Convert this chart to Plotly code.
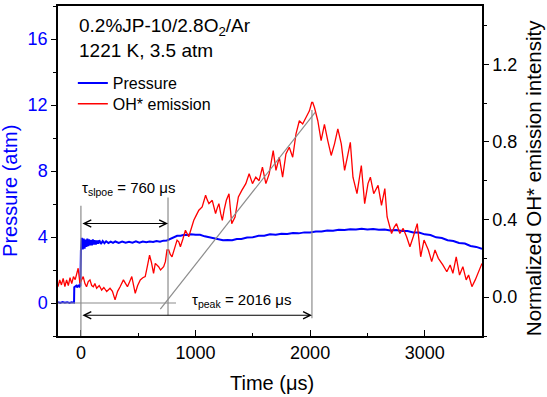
import plotly.graph_objects as go

# ---------------- data ----------------
t_pressure = [-200, -180, -160, -140, -120, -100, -80, -60,
              -58, -50, -40, -30, -20, -10, -5,
              0, 8, 16, 24, 32, 40, 48, 56, 64, 72, 80, 88, 96, 104, 112, 120,
              130, 140, 150, 160, 175, 190, 205, 220, 240, 260, 280, 300,
              330, 360, 390, 420, 450, 480, 510, 540, 570, 600,
              630, 660, 690, 720, 750, 780, 810, 840, 870, 900,
              930, 960, 1000, 1040, 1080, 1120, 1160, 1200, 1240, 1280,
              1320, 1360, 1400, 1450, 1500, 1550, 1600, 1650, 1700, 1750,
              1800, 1850, 1900, 1950, 2000, 2050, 2100, 2150, 2200, 2250,
              2300, 2350, 2400, 2450, 2500, 2550, 2600, 2650, 2700, 2750,
              2800, 2850, 2900, 2950, 3000, 3050, 3100, 3150, 3200, 3250,
              3300, 3350, 3400, 3450, 3500]
pressure = [0.05, 0.0, 0.06, 0.02, 0.05, 0.0, 0.04, 0.02,
            0.95, 1.0, 1.05, 0.95, 1.1, 1.0, 1.05,
            3.2, 3.95, 3.25, 3.9, 3.3, 3.85, 3.4, 3.9, 3.45, 3.85, 3.5, 3.8, 3.5, 3.85, 3.55, 3.8,
            3.55, 3.78, 3.6, 3.8, 3.58, 3.76, 3.62, 3.74, 3.63, 3.72, 3.64, 3.73,
            3.64, 3.72, 3.65, 3.71, 3.66, 3.74, 3.66, 3.72, 3.69, 3.73,
            3.7, 3.76, 3.72, 3.78, 3.79, 3.9, 3.96, 4.07, 4.08, 4.14,
            4.12, 4.17, 4.14, 4.14, 4.04, 3.99, 3.9, 3.87, 3.8, 3.82,
            3.8, 3.88, 3.88, 3.97, 3.98, 4.07, 4.08, 4.16, 4.14, 4.2,
            4.18, 4.24, 4.22, 4.28, 4.28, 4.34, 4.33, 4.39, 4.38, 4.44,
            4.42, 4.47, 4.45, 4.5, 4.46, 4.49, 4.44, 4.46, 4.4, 4.42,
            4.36, 4.36, 4.28, 4.27, 4.16, 4.12, 3.98, 3.94, 3.8, 3.76,
            3.64, 3.6, 3.46, 3.4, 3.28]

t_oh = [-200, -185, -170, -155, -140, -125, -110, -95, -80, -65,
        -50, -35, -24, -9, 5, 20, 35, 49, 64, 79,
        94, 108, 122, 137, 160, 181, 200, 225, 254, 275,
        298, 320, 342, 356, 371, 390, 406, 425, 444, 460,
        474, 495, 518, 540, 561, 580, 599, 615, 634, 649,
        678, 695, 722, 737, 751, 766, 780, 795, 810, 825,
        839, 854, 868, 890, 912, 941, 965, 985, 1005, 1029,
        1058, 1075, 1088, 1103, 1117, 1146, 1160, 1175, 1190, 1204,
        1220, 1234, 1250, 1269, 1292, 1316, 1345, 1374, 1404, 1439,
        1468, 1497, 1526, 1555, 1584, 1614, 1643, 1678, 1702, 1731,
        1760, 1789, 1818, 1848, 1877, 1906, 1935, 1965, 1994, 2014,
        2023, 2038, 2067, 2096, 2125, 2154, 2184, 2213, 2242, 2272,
        2301, 2325, 2351, 2374, 2409, 2447, 2476, 2505, 2526, 2555,
        2593, 2623, 2652, 2672, 2690, 2711, 2733, 2754, 2783, 2812,
        2842, 2871, 2900, 2935, 2965, 2994, 3032, 3061, 3090, 3119,
        3158, 3193, 3222, 3246, 3275, 3304, 3333, 3362, 3383, 3412,
        3441, 3470, 3500]
oh_emission = [0.054, 0.089, 0.063, 0.097, 0.054, 0.089, 0.06, 0.1, 0.07, 0.106,
               0.09, 0.12, 0.149, 0.072, 0.09, 0.106, 0.07, 0.054, 0.08, 0.089,
               0.06, 0.054, 0.07, 0.046, 0.06, 0.037, 0.05, 0.029, 0.046, 0.03,
               -0.014, 0.03, 0.054, 0.07, 0.089, 0.07, 0.054, 0.08, 0.106, 0.06,
               0.02, 0.06, 0.089, 0.1, 0.106, 0.16, 0.217, 0.18, 0.123, 0.174,
               0.157, 0.14, 0.157, 0.183, 0.243, 0.243, 0.22, 0.208, 0.24, 0.26,
               0.294, 0.285, 0.26, 0.3, 0.345, 0.311, 0.36, 0.396, 0.42, 0.448,
               0.465, 0.5, 0.525, 0.5, 0.482, 0.499, 0.46, 0.431, 0.46, 0.482,
               0.43, 0.396, 0.45, 0.499, 0.533, 0.379, 0.413, 0.516, 0.55, 0.585,
               0.636, 0.585, 0.618, 0.6, 0.67, 0.585, 0.636, 0.755, 0.653, 0.721,
               0.618, 0.738, 0.772, 0.721, 0.841, 0.909, 0.892, 0.926, 0.96, 1.003,
               1.003, 0.977, 0.909, 0.807, 0.89, 0.807, 0.73, 0.79, 0.867, 0.79,
               0.653, 0.721, 0.798, 0.618, 0.533, 0.678, 0.482, 0.585, 0.618, 0.533,
               0.576, 0.473, 0.559, 0.413, 0.379, 0.328, 0.36, 0.379, 0.328, 0.354,
               0.311, 0.26, 0.311, 0.379, 0.208, 0.294, 0.243, 0.183, 0.243, 0.2,
               0.166, 0.131, 0.166, 0.123, 0.208, 0.114, 0.157, 0.089, 0.114, 0.054,
               0.089, 0.131, 0.174]

x_ticks = [0, 1000, 2000, 3000]
p_ticks = [0, 4, 8, 12, 16]
oh_ticks = [0.0, 0.4, 0.8, 1.2]

# characteristic times (annotation geometry)
tau_slope = 760
tau_peak = 2016
slope_line = ([693, 2044], [-0.062, 0.952])   # on normalized axis

FONT = "Arial, Liberation Sans, sans-serif"
BLUE = "#0000ff"
RED = "#ff0000"
GRAY = "#8c8c8c"

fig = go.Figure()
fig.add_trace(go.Scatter(x=t_pressure, y=pressure, mode="lines", name="Pressure",
                         line=dict(color=BLUE, width=2), yaxis="y", legend="legend"))
fig.add_trace(go.Scatter(x=t_oh, y=oh_emission, mode="lines", name="OH* emission",
                         line=dict(color=RED, width=1.3), yaxis="y2", legend="legend2"))

shapes = [
    dict(type="line", xref="x", yref="y", x0=-200, x1=830, y0=0, y1=0,
         line=dict(color=GRAY, width=1.2)),
    dict(type="line", xref="x", yref="y", x0=0, x1=0, y0=-2, y1=5.9,
         line=dict(color=GRAY, width=1.2)),
    dict(type="line", xref="x", yref="y", x0=tau_slope, x1=tau_slope, y0=-0.74, y1=6.4,
         line=dict(color=GRAY, width=1.2)),
    dict(type="line", xref="x", yref="y", x0=tau_peak, x1=tau_peak, y0=-0.92, y1=11.7,
         line=dict(color=GRAY, width=1.2)),
    dict(type="line", xref="x", yref="y2", x0=slope_line[0][0], x1=slope_line[0][1],
         y0=slope_line[1][0], y1=slope_line[1][1], line=dict(color=GRAY, width=1.2)),
]

annotations = [
    # double arrows
    dict(x=tau_slope, y=4.82, ax=0, ay=4.82, xref="x", yref="y", axref="x", ayref="y",
         text="", showarrow=True, arrowside="end+start", arrowhead=5, startarrowhead=5,
         arrowsize=1.3, startarrowsize=1.3, arrowwidth=1.1, arrowcolor="black"),
    dict(x=tau_peak, y=-0.74, ax=0, ay=-0.74, xref="x", yref="y", axref="x", ayref="y",
         text="", showarrow=True, arrowside="end+start", arrowhead=5, startarrowhead=5,
         arrowsize=1.3, startarrowsize=1.3, arrowwidth=1.1, arrowcolor="black"),
    dict(x=-12, y=6.97, xref="x", yref="y", xanchor="left", yanchor="middle",
         text="τ<sub>slpoe</sub> = 760 μs", showarrow=False,
         font=dict(family=FONT, size=15, color="black")),
    dict(x=955, y=0.16, xref="x", yref="y", xanchor="left", yanchor="middle",
         text="τ<sub>peak</sub> = 2016 μs", showarrow=False,
         font=dict(family=FONT, size=15, color="black")),
    dict(x=-30, y=16.7, xref="x", yref="y", xanchor="left", yanchor="middle",
         text="0.2%JP-10/2.8O<sub>2</sub>/Ar", showarrow=False,
         font=dict(family=FONT, size=19, color="black")),
    dict(x=-30, y=15.3, xref="x", yref="y", xanchor="left", yanchor="middle",
         text="1221 K, 3.5 atm", showarrow=False,
         font=dict(family=FONT, size=19, color="black")),
    # axis titles
    dict(x=-0.113, y=0.44, xref="paper", yref="paper", xanchor="center", yanchor="middle",
         text="Pressure (atm)", textangle=-90, showarrow=False,
         font=dict(family=FONT, size=20, color=BLUE)),
    dict(x=1.12, y=0.478, xref="paper", yref="paper", xanchor="center", yanchor="middle",
         text="Normalized OH* emission intensity", textangle=-90, showarrow=False,
         font=dict(family=FONT, size=20.5, color="black")),
    dict(x=0.505, y=-0.142, xref="paper", yref="paper", xanchor="center", yanchor="middle",
         text="Time (μs)", showarrow=False,
         font=dict(family=FONT, size=20, color="black")),
]

legend_style = dict(xanchor="left", yanchor="top", bgcolor="rgba(0,0,0,0)",
                    font=dict(family=FONT, size=16, color="black"))

fig.update_layout(
    width=547, height=397,
    margin=dict(l=58, r=65, t=4, b=61),
    paper_bgcolor="white", plot_bgcolor="white",
    font=dict(family=FONT, size=18, color="black"),
    showlegend=True,
    legend=dict(x=0.035, y=0.818, **legend_style),
    legend2=dict(x=0.035, y=0.755, **legend_style),
    xaxis=dict(range=[-200, 3500], tickvals=x_ticks, ticks="inside", ticklen=6,
               tickwidth=1.2, tickcolor="black", showline=True, linecolor="black",
               linewidth=1.5, mirror=True, showgrid=False, zeroline=False,
               tickfont=dict(family=FONT, size=18, color="black"),
               minor=dict(dtick=500, tick0=0, ticks="inside", ticklen=3,
                          tickcolor="black", tickwidth=1.2)),
    yaxis=dict(range=[-2, 18], tickvals=p_ticks, ticks="outside", ticklen=5,
               tickwidth=1.2, tickcolor="black", showline=True, linecolor="black",
               linewidth=1.5, showgrid=False, zeroline=False,
               tickfont=dict(family=FONT, size=18, color=BLUE),
               minor=dict(dtick=2, tick0=0, ticks="outside", ticklen=3,
                          tickcolor="black", tickwidth=1.2)),
    yaxis2=dict(range=[-0.2, 1.5], tickvals=oh_ticks, tickformat=".1f",
                overlaying="y", side="right", ticks="outside", ticklen=5,
                tickwidth=1.2, tickcolor="black", showline=True, linecolor="black",
                linewidth=1.5, showgrid=False, zeroline=False,
                tickfont=dict(family=FONT, size=18, color="black"),
                minor=dict(dtick=0.2, tick0=0, ticks="outside", ticklen=3,
                           tickcolor="black", tickwidth=1.2)),
    shapes=shapes,
    annotations=annotations,
)

fig.write_html("out.html", config={"displayModeBar": False},
               post_script="document.body.style.margin='0';document.body.style.padding='0';")
